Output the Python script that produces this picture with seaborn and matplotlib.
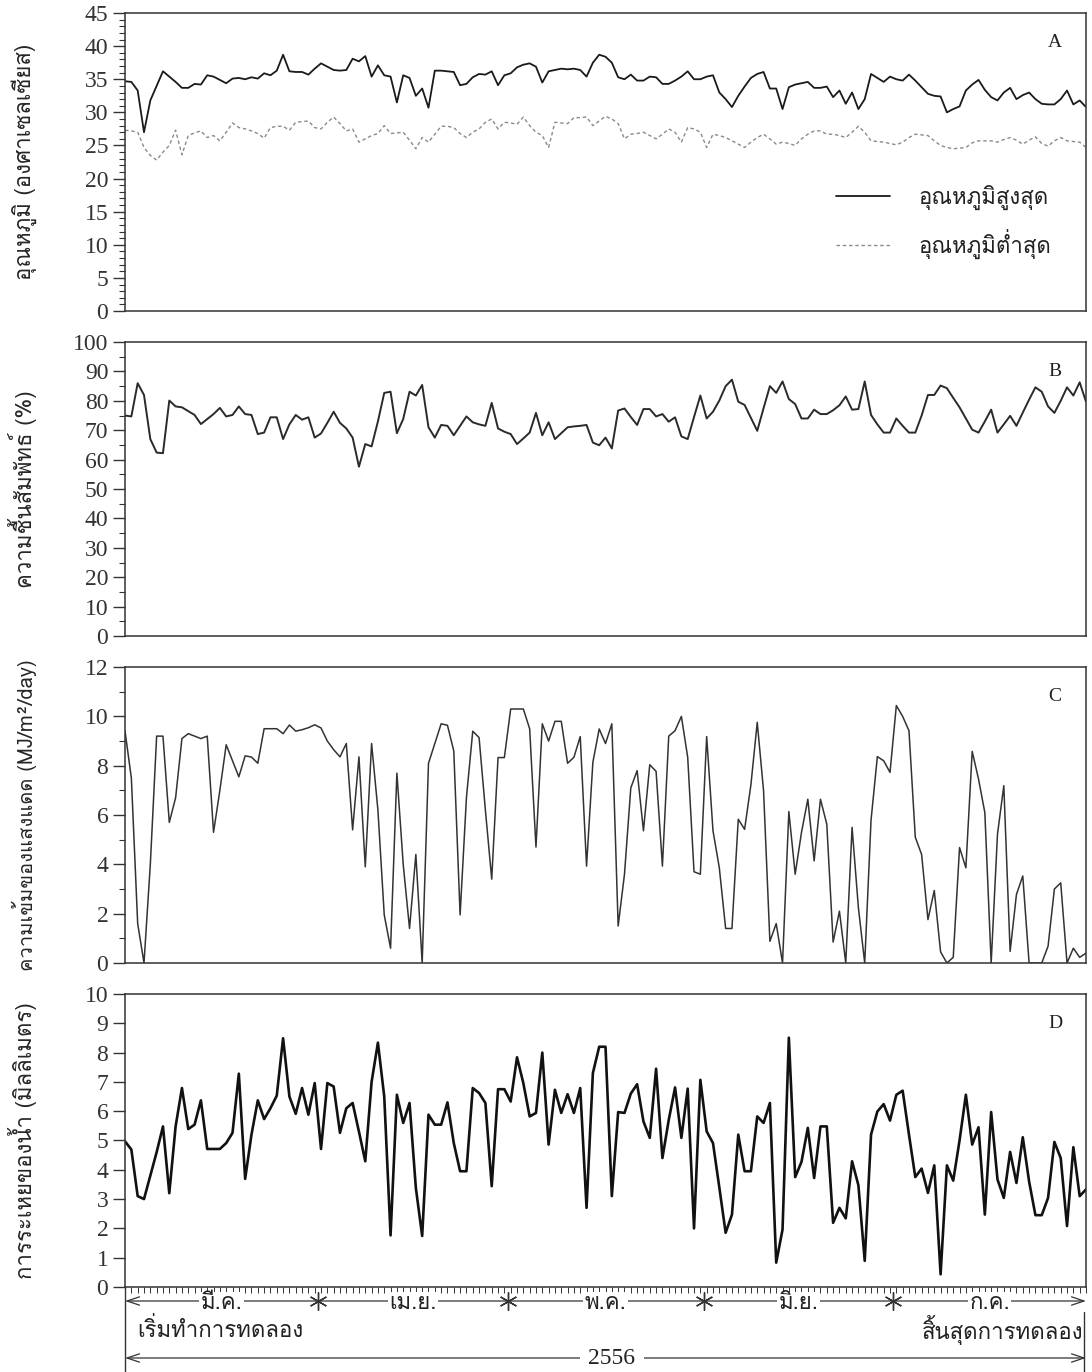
import numpy as np
import pandas as pd
import seaborn as sns
import matplotlib
matplotlib.use("Agg")
import matplotlib.pyplot as plt
import matplotlib.transforms as mtransforms
from matplotlib.lines import Line2D
from matplotlib import font_manager as fm
from matplotlib.ft2font import FT2Font

# ---------------- data (daily, 1 Mar - 31 Jul 2556) ----------------
tmax = [34.7,34.6,33.3,27.0,31.8,34.0,36.2,35.4,34.6,33.7,
        33.7,34.3,34.2,35.6,35.4,34.9,34.4,35.1,35.2,35.0,
        35.3,35.1,35.9,35.6,36.3,38.7,36.2,36.1,36.1,35.7,
        36.6,37.4,36.9,36.4,36.3,36.4,38.1,37.7,38.5,35.4,
        37.1,35.6,35.4,31.5,35.6,35.2,32.5,33.6,30.7,36.3,
        36.3,36.2,36.1,34.1,34.3,35.3,35.8,35.7,36.2,34.1,
        35.6,35.9,36.8,37.2,37.4,36.9,34.5,36.2,36.4,36.6,
        36.5,36.6,36.4,35.4,37.5,38.7,38.4,37.5,35.3,35.0,
        35.7,34.8,34.8,35.4,35.3,34.3,34.3,34.8,35.4,36.2,
        35.0,35.0,35.4,35.6,33.0,32.0,30.8,32.5,33.9,35.2,
        35.8,36.1,33.6,33.6,30.5,33.8,34.2,34.4,34.6,33.7,
        33.7,33.9,32.3,33.3,31.3,33.0,30.5,32.0,35.8,35.2,
        34.6,35.4,35.0,34.8,35.7,34.8,33.8,32.8,32.5,32.4,
        30.0,30.5,30.9,33.3,34.2,34.9,33.4,32.3,31.8,33.0,
        33.7,32.0,32.6,33.0,32.0,31.3,31.2,31.2,32.0,33.3,
        31.2,31.8,30.8]
tmin = [27.3,27.2,27.0,24.7,23.5,22.8,24.0,25.0,27.3,23.6,
        26.5,26.9,27.2,26.2,26.5,25.7,27.0,28.4,27.7,27.5,
        27.2,26.8,26.1,27.7,27.9,27.9,27.3,28.5,28.6,28.7,
        27.7,27.5,28.5,29.3,28.3,27.2,27.5,25.5,26.0,26.5,
        26.8,28.0,26.8,26.9,27.0,25.8,24.5,26.2,25.5,26.7,
        27.9,27.9,27.7,26.8,26.2,27.0,27.5,28.5,29.0,27.5,
        28.5,28.4,28.2,29.3,28.0,27.0,26.5,24.7,28.5,28.4,
        28.3,29.2,29.2,29.3,28.0,28.7,29.4,29.0,28.3,26.0,
        26.7,26.8,27.0,26.5,26.0,26.7,27.5,27.0,25.5,27.7,
        27.5,27.0,24.7,26.7,26.5,26.2,25.7,25.2,24.7,25.5,
        26.2,26.7,26.0,25.2,25.5,25.3,25.0,26.0,26.7,27.2,
        27.2,26.7,26.7,26.5,26.2,27.0,27.9,27.0,25.7,25.6,
        25.5,25.3,25.1,25.5,26.2,26.7,26.6,26.5,25.7,25.0,
        24.7,24.5,24.6,24.7,25.4,25.7,25.7,25.7,25.5,25.9,
        26.2,25.8,25.2,25.8,26.3,25.3,24.9,25.7,26.2,25.7,
        25.6,25.5,24.7]
humidity = [75.0,74.7,86.0,82.0,67.0,62.4,62.2,80.1,78.1,77.8,
            76.5,75.2,72.1,73.8,75.5,77.6,74.7,75.2,78.1,75.5,
            75.2,68.7,69.2,74.4,74.4,67.0,72.0,75.2,73.6,74.4,
            67.5,68.9,72.5,76.3,72.5,70.6,67.5,57.6,65.3,64.5,
            73.0,82.7,83.1,69.0,73.8,83.1,81.8,85.4,71.0,67.5,
            71.8,71.5,68.3,71.5,74.7,72.7,72.0,71.5,79.3,70.6,
            69.5,68.7,65.3,67.2,69.2,75.9,68.3,72.7,67.0,69.0,
            71.0,71.3,71.5,71.8,65.8,64.9,67.5,63.8,76.7,77.4,
            74.5,71.8,77.2,77.2,74.7,75.5,72.9,74.4,67.9,67.0,
            74.5,81.8,74.0,76.3,80.1,85.0,87.2,79.7,78.6,74.2,
            69.8,77.5,85.0,82.7,86.6,80.6,78.9,74.0,74.0,77.0,
            75.5,75.5,76.8,78.5,81.5,77.0,77.2,86.6,75.2,72.0,
            69.2,69.2,74.0,71.5,69.2,69.2,75.0,82.0,82.0,85.2,
            84.3,81.0,77.8,74.0,70.2,69.2,73.0,77.0,69.2,72.0,
            74.9,71.5,76.0,80.4,84.6,83.1,78.1,75.9,80.0,84.6,
            81.8,86.3,79.7]
solar = [9.4,7.5,1.6,0.0,4.0,9.2,9.2,5.7,6.7,9.1,
         9.3,9.2,9.1,9.2,5.3,7.0,8.85,8.2,7.55,8.4,
         8.35,8.1,9.5,9.5,9.5,9.3,9.65,9.4,9.46,9.54,
         9.66,9.53,9.0,8.65,8.36,8.9,5.4,8.36,3.9,8.9,
         6.2,1.95,0.6,7.7,4.0,1.4,4.4,0.0,8.1,8.9,
         9.7,9.64,8.6,1.95,6.7,9.4,9.14,6.2,3.4,8.33,
         8.33,10.3,10.3,10.3,9.5,4.7,9.7,9.0,9.8,9.8,
         8.1,8.34,9.18,3.93,8.14,9.49,8.9,9.7,1.5,3.6,
         7.1,7.8,5.36,8.04,7.77,3.93,9.2,9.42,10.0,8.34,
         3.7,3.6,9.18,5.36,3.86,1.4,1.4,5.83,5.42,7.23,
         9.76,6.98,0.88,1.6,0.0,6.14,3.6,5.3,6.64,4.14,
         6.64,5.63,0.85,2.1,0.0,5.5,2.24,0.0,5.8,8.37,
         8.2,7.73,10.44,10.0,9.42,5.1,4.4,1.76,2.94,0.45,
         0.0,0.23,4.68,3.86,8.58,7.46,6.1,0.0,5.22,7.19,
         0.47,2.78,3.53,0.0,0.0,0.0,0.68,3.0,3.25,0.0,
         0.6,0.23,0.4]
evaporation = [4.97,4.69,3.1,3.0,3.8,4.6,5.48,3.2,5.48,6.79,
               5.39,5.54,6.37,4.71,4.71,4.71,4.91,5.26,7.28,3.69,
               5.2,6.37,5.73,6.1,6.53,8.49,6.5,5.91,6.79,5.88,
               6.96,4.71,6.96,6.84,5.26,6.1,6.28,5.3,4.29,7.0,
               8.34,6.5,1.76,6.56,5.6,6.28,3.38,1.74,5.88,5.54,
               5.54,6.3,4.91,3.95,3.95,6.79,6.62,6.28,3.44,6.75,
               6.75,6.33,7.84,6.96,5.82,5.94,8.0,4.86,6.73,5.94,
               6.58,5.94,6.79,2.7,7.3,8.2,8.2,3.1,5.97,5.94,
               6.6,6.92,5.65,5.09,7.45,4.4,5.7,6.81,5.09,6.77,
               2.0,7.07,5.31,4.91,3.4,1.85,2.47,5.2,3.95,3.95,
               5.82,5.6,6.28,0.83,1.96,8.51,3.75,4.27,5.43,3.72,
               5.48,5.48,2.19,2.7,2.34,4.29,3.47,0.89,5.2,5.99,
               6.24,5.68,6.56,6.7,5.2,3.75,4.04,3.21,4.15,0.43,
               4.15,3.63,5.0,6.56,4.86,5.45,2.47,5.97,3.67,3.04,
               4.61,3.55,5.11,3.6,2.45,2.45,3.04,4.95,4.4,2.08,
               4.77,3.1,3.33]

months = ["มี.ค.", "เม.ย.", "พ.ค.", "มิ.ย.", "ก.ค."]
month_days = [31, 30, 31, 30, 31]
ylabels = ["อุณหภูมิ (องศาเซลเซียส)", "ความชื้นสัมพัทธ์ (%)",
           "ความเข้มของแสงแดด (MJ/m²/day)", "การระเหยของน้ำ (มิลลิเมตร)"]
legend_labels = ["อุณหภูมิสูงสุด", "อุณหภูมิต่ำสุด"]
panel_letters = ["A", "B", "C", "D"]
start_label = "เริ่มทำการทดลอง"
end_label = "สิ้นสุดการทดลอง"
year_label = "2556"

# ---------------- fonts ----------------
sns.set_style("ticks")

def thai_fonts():
    found = []
    seen = set()
    for f in fm.fontManager.ttflist:
        if f.name in seen:
            continue
        try:
            cmap = FT2Font(f.fname).get_charmap()
        except Exception:
            continue
        if 0x0E2D in cmap and 0x0E39 in cmap and 0x0E48 in cmap:
            found.append(f.name)
            seen.add(f.name)
    return found

tf = thai_fonts()
THAI = tf[0] if tf else "DejaVu Sans"
SERIF = "Liberation Serif"
plt.rcParams['font.family'] = [SERIF, THAI, 'DejaVu Sans']
plt.rcParams['axes.linewidth'] = 1.1
plt.rcParams['axes.edgecolor'] = '#333333'
plt.rcParams['xtick.color'] = '#333333'
plt.rcParams['ytick.color'] = '#333333'
plt.rcParams['text.color'] = '#222222'
THAI_FAM = [THAI, SERIF, 'DejaVu Sans']

# ---------------- figure ----------------
fig = plt.figure(figsize=(10.92, 13.72), dpi=100)
L, W = 0.1145, 0.880
rects = [(0.7733, 0.2172), (0.5364, 0.2143), (0.2981, 0.2157), (0.0620, 0.2135)]
axes = [fig.add_axes([L, b, W, h]) for b, h in rects]

n = len(tmax)
days = np.arange(n)
df = pd.DataFrame({"day": days, "tmax": tmax, "tmin": tmin,
                   "hum": humidity[:n], "solar": solar[:n], "evap": evaporation[:n]})

axA, axB, axC, axD = axes
sns.lineplot(data=df, x="day", y="tmax", ax=axA, color="#1a1a1a", lw=1.3,
             estimator=None, sort=False, label=legend_labels[0])
sns.lineplot(data=df, x="day", y="tmin", ax=axA, color="#8a8a8a", lw=1.0,
             linestyle=(0, (2.5, 2)), estimator=None, sort=False, label=legend_labels[1])
sns.lineplot(data=df, x="day", y="hum", ax=axB, color="#2a2a2a", lw=1.4,
             estimator=None, sort=False)
sns.lineplot(data=df, x="day", y="solar", ax=axC, color="#333333", lw=1.1,
             estimator=None, sort=False)
sns.lineplot(data=df, x="day", y="evap", ax=axD, color="#111111", lw=1.9,
             estimator=None, sort=False)

ylims = [(0, 45), (0, 100), (0, 12), (0, 10)]
majors = [5, 10, 2, 1]
minors = [1, 5, 1, None]
label_sizes = [16, 16, 14.5, 16]
for ax, yl, mj, mn, lab, let, ls in zip(axes, ylims, majors, minors, ylabels,
                                        panel_letters, label_sizes):
    ax.set_xlim(0, n - 1)
    ax.set_ylim(*yl)
    ax.set_yticks(np.arange(yl[0], yl[1] + 0.01, mj))
    if mn:
        ax.set_yticks(np.arange(yl[0], yl[1] + 0.01, mn), minor=True)
    ax.tick_params(axis='y', which='major', direction='out', length=9, width=1.0,
                   labelsize=17, pad=3)
    ax.tick_params(axis='y', which='minor', direction='out', length=4.5, width=0.8)
    for lbl in ax.get_yticklabels():
        lbl.set_fontfamily(SERIF)
    ax.set_xlabel("")
    ax.set_ylabel(lab, fontsize=ls, family=THAI_FAM)
    ax.yaxis.set_label_coords(-0.092, 0.5)
    for s in ax.spines.values():
        s.set_visible(True)
    ax.text(0.968, 0.90, let, transform=ax.transAxes, ha='center', va='center',
            fontsize=14, family=SERIF)
    if ax is not axD:
        ax.set_xticks([])

axD.set_xticks([])
axD.set_xticks(days, minor=True)
axD.tick_params(axis='x', which='minor', direction='out', length=4, width=0.7)

leg = axA.legend(loc='upper right', bbox_to_anchor=(0.985, 0.49), frameon=False,
                 handlelength=2.4, handletextpad=1.3, labelspacing=0.85,
                 prop={'family': THAI_FAM, 'size': 16})

# ---------------- bottom time annotations ----------------
trans = mtransforms.blended_transform_factory(axD.transData, fig.transFigure)
y_month = 1 - 1301 / 1372
y_label2 = 1 - 1330 / 1372
y_year = 1 - 1358 / 1372

edges = np.concatenate([[0], np.cumsum(month_days)]) - 0.5
edges[0] = 0
edges[-1] = n - 1
arrow_kw = dict(arrowstyle='<->,head_length=0.9,head_width=0.3', color='#333333', lw=0.9,
                shrinkA=0, shrinkB=0)
axD.annotate("", xy=(edges[0], y_month), xytext=(edges[-1], y_month),
             xycoords=trans, textcoords=trans, arrowprops=arrow_kw, annotation_clip=False)
axD.plot(edges[1:-1], [y_month] * (len(edges) - 2), transform=trans, ls='none',
         marker=(6, 2, 0), ms=13, mew=1.0, color='#333333', clip_on=False)
for i, m in enumerate(months):
    cx = (edges[i] + edges[i + 1]) / 2
    axD.text(cx, y_month - 0.002, m, transform=trans, ha='center', va='center', fontsize=16,
             family=THAI_FAM, bbox=dict(facecolor='white', edgecolor='none', pad=1.0))

axD.text(2, y_label2, start_label, transform=trans, ha='left', va='center',
         fontsize=16, family=THAI_FAM)
axD.text(n - 1.5, y_label2, end_label, transform=trans, ha='right', va='center',
         fontsize=16, family=THAI_FAM)

axD.annotate("", xy=(0, y_year), xytext=(n - 1, y_year), xycoords=trans, textcoords=trans,
             arrowprops=arrow_kw, annotation_clip=False)
axD.text(77, y_year, year_label, transform=trans, ha='center', va='center', fontsize=17,
         family=SERIF, bbox=dict(facecolor='white', edgecolor='none', pad=6))

# vertical guide lines bounding the time annotations
fig.add_artist(Line2D([L, L], [0, rects[3][0]], transform=fig.transFigure,
                      color='#333333', lw=1.0))
fig.add_artist(Line2D([L + W - 0.002, L + W - 0.002], [0, 1 - 1312 / 1372],
                      transform=fig.transFigure, color='#333333', lw=1.0))

fig.savefig("out.png", dpi=100, facecolor='white')
